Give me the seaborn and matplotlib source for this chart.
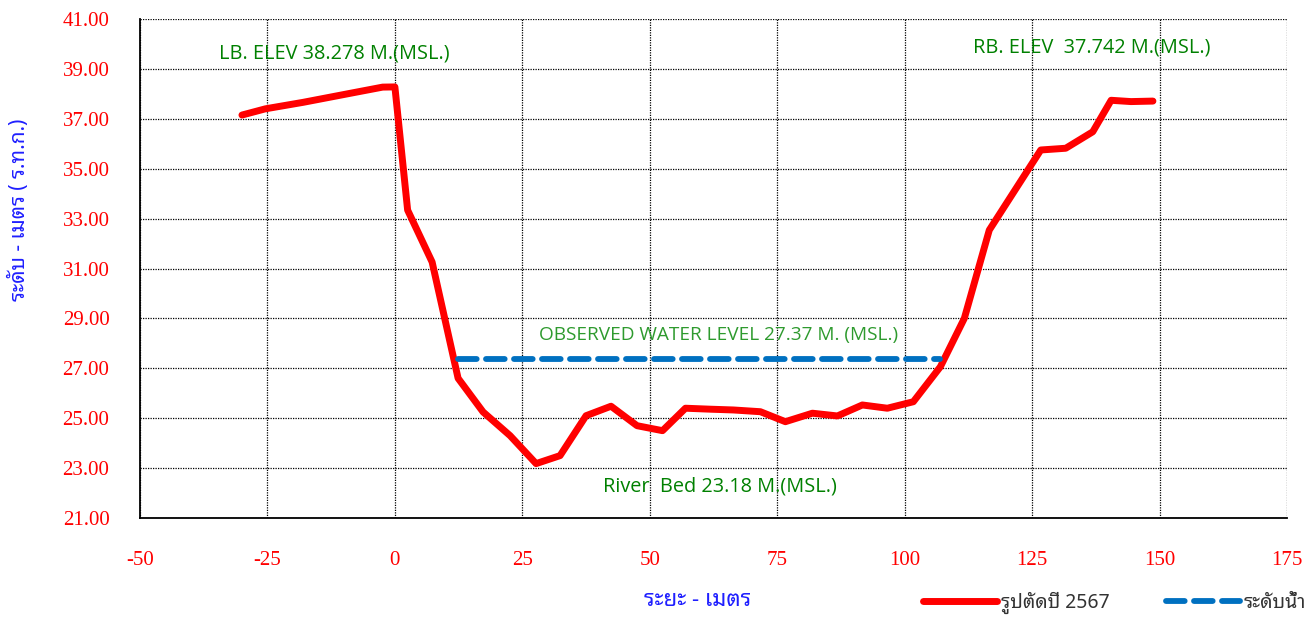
import numpy as np
import pandas as pd
import matplotlib
matplotlib.use("Agg")
import matplotlib.pyplot as plt
import matplotlib.font_manager as fm
from matplotlib.ft2font import FT2Font
import seaborn as sns

# ---- data ----
distance = [-30.0, -25.4, -18.0, -8.3, -2.4, 0.0, 2.5, 7.3, 12.4, 17.3, 22.6, 27.7,
            32.4, 37.5, 42.4, 47.5, 52.5, 57.0, 62.0, 66.4, 71.7, 76.6, 81.9, 86.8,
            91.7, 96.6, 101.7, 107.0, 111.7, 116.6, 126.7, 131.6, 136.9, 140.5,
            144.4, 148.7]
elevation = [37.15, 37.40, 37.66, 38.04, 38.27, 38.278, 33.34, 31.26, 26.60, 25.25,
             24.30, 23.18, 23.50, 25.10, 25.48, 24.70, 24.50, 25.40, 25.36, 25.33,
             25.26, 24.86, 25.20, 25.09, 25.53, 25.40, 25.66, 27.06, 29.00, 32.54,
             35.75, 35.82, 36.48, 37.742, 37.69, 37.71]
water_x = [12.4, 107.0]
water_level = [27.37, 27.37]

x_ticks = [-50, -25, 0, 25, 50, 75, 100, 125, 150, 175]
y_ticks = [21, 23, 25, 27, 29, 31, 33, 35, 37, 39, 41]

series_section = "รูปตัดปี 2567"
series_water = "ระดับน้ำ"
x_label = "ระยะ - เมตร"
y_label = "ระดับ - เมตร ( ร.ท.ก.)"
lb_text = "LB. ELEV 38.278 M.(MSL.)"
rb_text = "RB. ELEV  37.742 M.(MSL.)"
wl_text = "OBSERVED WATER LEVEL 27.37 M. (MSL.)"
bed_text = "River  Bed 23.18 M.(MSL.)"


def find_font_with(ch, prefer=("Noto Sans Thai", "Noto Sans Thai UI", "Loma", "Garuda",
                              "Sarabun", "Tlwg", "Kinnari", "Norasi", "Waree", "Umpush")):
    found = []
    for f in fm.fontManager.ttflist:
        try:
            cmap = FT2Font(f.fname).get_charmap()
        except Exception:
            continue
        if ord(ch) in cmap:
            found.append(f.name)
    if not found:
        return None
    for p in prefer:
        for n in found:
            if n.startswith(p):
                return n
    return found[0]


thai_font = find_font_with("ร")
thai_family = [thai_font, "DejaVu Sans"] if thai_font else ["DejaVu Sans"]

sns.set_style("white")
plt.rcParams["font.family"] = ["Open Sans", "DejaVu Sans"]

df_sec = pd.DataFrame({"x": distance, "y": elevation})
df_wl = pd.DataFrame({"x": water_x, "y": water_level})

W, H = 1314, 617
fig = plt.figure(figsize=(W / 100, H / 100), dpi=100)
ax = fig.add_axes([140 / W, 1 - 518 / H, 1147 / W, 499 / H])

sns.lineplot(data=df_sec, x="x", y="y", ax=ax, color="#FF0000", linewidth=5,
             sort=False, estimator=None, label=series_section, solid_capstyle="round",
             solid_joinstyle="round")
sns.lineplot(data=df_wl, x="x", y="y", ax=ax, color="#0070C0", linewidth=4.2,
             sort=False, estimator=None, label=series_water)
wl_line = ax.get_lines()[-1]
wl_line.set_dashes([3.2, 1.6])
wl_line.set_dash_capstyle("round")

ax.set_xlim(-50, 175)
ax.set_ylim(21, 41)
ax.set_xticks(x_ticks)
ax.set_yticks(y_ticks)
ax.set_yticklabels([f"{v:.2f}" for v in y_ticks])
ax.set_xticklabels([str(v) for v in x_ticks])

for lab in ax.get_xticklabels() + ax.get_yticklabels():
    lab.set_fontfamily(["Liberation Serif", "DejaVu Serif"])
    lab.set_fontsize(15)
    lab.set_color("#FF0000")

ax.tick_params(axis="y", direction="out", length=10, width=1.2, color="#333333", pad=12)
ax.tick_params(axis="x", direction="out", length=9, width=1.2, color="#333333", pad=15)

ax.grid(True, color="black", linestyle=(0, (1, 1)), linewidth=0.9)
for s in ["top", "right"]:
    ax.spines[s].set_visible(False)
for s in ["left", "bottom"]:
    ax.spines[s].set_color("black")
    ax.spines[s].set_linewidth(1.3)

ax.set_xlabel("")
ax.set_ylabel("")
fig.text(698 / W, 1 - 600 / H, x_label, family=thai_family, fontsize=16,
         color="#1F1FFF", ha="center", va="center")
fig.text(19 / W, 1 - 210 / H, y_label, family=thai_family, fontsize=15,
         color="#1F1FFF", fontweight="bold", rotation=90, ha="center", va="center")

ax.text(-11.8, 39.6, lb_text, ha="center", va="center", fontsize=14.3, color="#008000")
ax.text(136.7, 39.85, rb_text, ha="center", va="center", fontsize=14.3, color="#008000")
ax.text(63.5, 28.35, wl_text, ha="center", va="center", fontsize=13.7, color="#2E9A2E")
ax.text(63.7, 22.28, bed_text, ha="center", va="center", fontsize=14.3, color="#008000")

leg = ax.legend(loc="center right", bbox_to_anchor=(1306 / W, 1 - 603 / H),
                bbox_transform=fig.transFigure, ncol=2, frameon=False,
                borderaxespad=0, borderpad=0,
                handlelength=3.8, columnspacing=2.9, handletextpad=0.2,
                prop=fm.FontProperties(family=thai_family, size=14))
for t in leg.get_texts():
    t.set_color("#333333")

fig.savefig("out.png", dpi=100)
